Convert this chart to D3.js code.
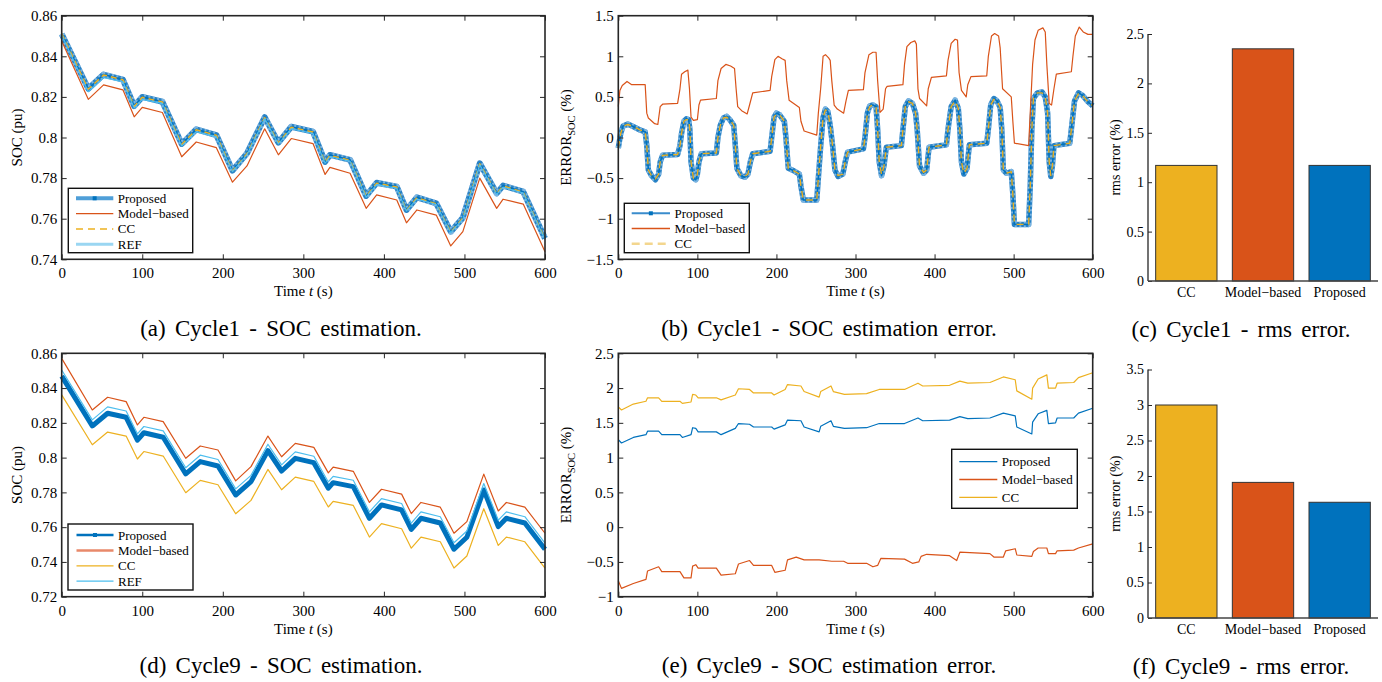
<!DOCTYPE html>
<html>
<head>
<meta charset="utf-8">
<script src="https://cdn.jsdelivr.net/npm/d3@7"></script>
<style>
  html, body { margin: 0; background: #fff; }
  svg { display: block; }
</style>
</head>
<body>
<svg id="fig" width="1382" height="682"></svg>
<script>
// ---- data -----------------------------------------------------------------
const TIME_TICKS = [0, 100, 200, 300, 400, 500, 600];
const SOC1_TICKS = [0.74, 0.76, 0.78, 0.8, 0.82, 0.84, 0.86];
const ERR1_TICKS = [-1.5, -1, -0.5, 0, 0.5, 1, 1.5];
const SOC9_TICKS = [0.72, 0.74, 0.76, 0.78, 0.8, 0.82, 0.84, 0.86];
const ERR9_TICKS = [-1, -0.5, 0, 0.5, 1, 1.5, 2, 2.5];
const RMS1_TICKS = [0, 0.5, 1, 1.5, 2, 2.5];
const RMS9_TICKS = [0, 0.5, 1, 1.5, 2, 2.5, 3, 3.5];

const METHODS = ['CC', 'Model\u2212based', 'Proposed'];
const RMS1 = [1.17, 2.35, 1.17];
const RMS9 = [3.0, 1.91, 1.63];

// cycle 1, SOC (pu)
const T1 = [0, 33, 52, 76, 90, 100, 125, 149, 167, 192, 212, 230, 252, 269, 285, 312,
            327, 333, 358, 378, 391, 416, 428, 441, 465, 483, 498, 519, 540, 548, 573, 600];
const PROP1 = [0.851, 0.824, 0.831, 0.8285, 0.8155, 0.820, 0.8176, 0.7968, 0.804, 0.8012, 0.7837,
               0.7922, 0.810, 0.7975, 0.8053, 0.8029, 0.788, 0.7914, 0.789, 0.7712, 0.7777, 0.7758,
               0.7643, 0.7705, 0.7676, 0.7536, 0.7605, 0.7873, 0.7725, 0.7763, 0.7733, 0.7503];
const MB1 = [0.8475, 0.8188, 0.8259, 0.8235, 0.8102, 0.8148, 0.8123, 0.7905, 0.7978, 0.795, 0.778,
             0.786, 0.8043, 0.7915, 0.7995, 0.797, 0.7818, 0.7853, 0.7824, 0.7651, 0.7717, 0.7692,
             0.758, 0.7643, 0.7618, 0.7466, 0.7536, 0.780, 0.7651, 0.7696, 0.7672, 0.7437];
const CC1 = [0.8512, 0.8238, 0.8308, 0.8284, 0.8153, 0.8198, 0.8175, 0.7966, 0.8038, 0.8011, 0.7835,
             0.792, 0.8098, 0.7973, 0.8051, 0.8027, 0.7878, 0.7912, 0.7888, 0.771, 0.7775, 0.7756,
             0.7641, 0.7703, 0.7674, 0.7534, 0.7603, 0.7871, 0.7723, 0.7761, 0.7731, 0.7501];
const REF1 = [0.8505, 0.8225, 0.8295, 0.8275, 0.8145, 0.8188, 0.8168, 0.7958, 0.8028, 0.8003, 0.7832,
              0.7915, 0.8093, 0.7968, 0.8043, 0.802, 0.7873, 0.7905, 0.7883, 0.7706, 0.7768, 0.775,
              0.7638, 0.7697, 0.767, 0.7531, 0.7598, 0.7866, 0.772, 0.7755, 0.7727, 0.7498];

// cycle 1, SOC error (%) as [t, value]
const PROP1_ERR = [[0,-0.13],[3,0.05],[6,0.14],[12,0.165],[20,0.13],[28,0.09],[34,0.07],[36,-0.1],[38,-0.4],
  [42,-0.47],[47,-0.52],[51,-0.45],[53,-0.3],[56,-0.22],[75,-0.21],[78,-0.1],[80,0.05],[83,0.2],[86,0.23],
  [89,0.22],[90.5,0.1],[92,-0.3],[95,-0.5],[98,-0.52],[100,-0.45],[102,-0.3],[105,-0.2],[124,-0.19],[126,0],
  [129,0.15],[133,0.24],[137,0.26],[141,0.22],[146,0.15],[148,-0.1],[150,-0.38],[155,-0.47],[160,-0.49],
  [164,-0.45],[167,-0.3],[170,-0.2],[192,-0.17],[194,0],[197,0.25],[200,0.3],[204,0.28],[210,0.2],[212,0],
  [215,-0.38],[222,-0.41],[229,-0.45],[231,-0.6],[234,-0.77],[251,-0.77],[253,-0.5],[256,-0.1],[259,0.25],
  [262,0.35],[265,0.32],[268,0.15],[271,-0.1],[274,-0.4],[278,-0.48],[284,-0.45],[287,-0.3],[290,-0.18],
  [310,-0.14],[312,0],[315,0.3],[318,0.39],[322,0.4],[326,0.38],[328,0.1],[330,-0.3],[333,-0.47],[336,-0.35],
  [339,-0.12],[358,-0.1],[360,0.1],[363,0.38],[367,0.45],[372,0.42],[376,0.3],[378,0.1],[381,-0.35],
  [386,-0.44],[390,-0.4],[393,-0.12],[415,-0.09],[417,0.1],[421,0.38],[426,0.46],[430,0.36],[432,0.1],
  [434,-0.3],[437,-0.45],[441,-0.38],[444,-0.09],[466,-0.07],[468,0.1],[471,0.4],[475,0.48],[479,0.45],
  [483,0.37],[485,0.1],[487,-0.4],[491,-0.44],[497,-0.42],[499,-0.7],[501,-1.07],[519,-1.07],[521,-0.6],
  [523,0.1],[525,0.48],[530,0.55],[536,0.56],[540,0.5],[543,0.3],[545,-0.3],[547,-0.48],[549,-0.35],
  [551,-0.1],[571,-0.07],[573,0.1],[577,0.45],[582,0.55],[587,0.52],[594,0.44],[600,0.39]];
const MB1_ERR = [[0,0.38],[2,0.58],[5,0.64],[11,0.69],[17,0.65],[34,0.65],[36,0.3],[38,0.24],[46,0.17],
  [50,0.16],[53,0.38],[56,0.41],[75,0.42],[78,0.6],[80,0.78],[84,0.81],[88,0.83],[90,0.6],[92,0.25],
  [95,0.21],[100,0.22],[102,0.4],[104,0.46],[124,0.48],[126,0.7],[130,0.85],[136,0.9],[142,0.88],
  [147,0.85],[149,0.6],[151,0.38],[156,0.33],[163,0.29],[166,0.4],[170,0.55],[192,0.58],[194,0.75],
  [198,0.96],[202,1.0],[207,0.97],[211,0.95],[213,0.7],[216,0.46],[229,0.37],[231,0.2],[235,0.08],
  [251,0.03],[253,0.3],[256,0.61],[259,1.0],[262,1.02],[266,0.98],[268,0.95],[270,0.7],[273,0.4],
  [277,0.35],[285,0.3],[288,0.45],[291,0.58],[310,0.59],[312,0.8],[317,1.02],[322,1.05],[326,1.05],
  [328,0.7],[331,0.31],[335,0.35],[338,0.6],[340,0.63],[360,0.65],[362,0.9],[365,1.12],[370,1.17],
  [375,1.19],[377,1.15],[379,0.6],[381,0.48],[390,0.39],[392,0.6],[396,0.74],[415,0.76],[417,0.95],
  [421,1.16],[426,1.21],[429,1.2],[431,0.8],[434,0.58],[440,0.5],[442,0.65],[446,0.75],[466,0.76],
  [468,1.0],[472,1.25],[476,1.28],[481,1.25],[483,1.1],[486,0.6],[497,0.5],[499,0.2],[501,-0.07],
  [519,-0.1],[521,0.3],[524,0.9],[527,1.2],[531,1.32],[537,1.35],[540,1.3],[542,0.9],[545,0.42],
  [548,0.4],[551,0.6],[554,0.78],[573,0.81],[575,1.0],[578,1.25],[583,1.36],[588,1.3],[594,1.27],[600,1.27]];
const CC1_ERR = [[0,-0.13],[3,0.05],[6,0.14],[12,0.16],[20,0.13],[28,0.09],[34,0.07],[36,-0.1],[38,-0.4],
  [42,-0.47],[47,-0.51],[51,-0.45],[53,-0.3],[56,-0.22],[75,-0.21],[78,-0.1],[80,0.05],[83,0.2],[86,0.22],
  [89,0.22],[90.5,0.1],[92,-0.3],[95,-0.5],[98,-0.51],[100,-0.45],[102,-0.3],[105,-0.2],[124,-0.19],[126,0],
  [129,0.15],[133,0.24],[137,0.25],[141,0.22],[146,0.15],[148,-0.1],[150,-0.38],[155,-0.47],[160,-0.48],
  [164,-0.45],[167,-0.3],[170,-0.2],[192,-0.17],[194,0],[197,0.25],[200,0.29],[204,0.28],[210,0.2],[212,0],
  [215,-0.38],[222,-0.41],[229,-0.45],[231,-0.6],[234,-0.77],[251,-0.77],[253,-0.5],[256,-0.1],[259,0.25],
  [262,0.34],[265,0.32],[268,0.15],[271,-0.1],[274,-0.4],[278,-0.47],[284,-0.45],[287,-0.3],[290,-0.18],
  [310,-0.14],[312,0],[315,0.3],[318,0.38],[322,0.4],[326,0.38],[328,0.1],[330,-0.3],[333,-0.46],[336,-0.35],
  [339,-0.12],[358,-0.1],[360,0.1],[363,0.38],[367,0.44],[372,0.42],[376,0.3],[378,0.1],[381,-0.35],
  [386,-0.43],[390,-0.4],[393,-0.12],[415,-0.09],[417,0.1],[421,0.38],[426,0.45],[430,0.36],[432,0.1],
  [434,-0.3],[437,-0.44],[441,-0.38],[444,-0.09],[466,-0.07],[468,0.1],[471,0.4],[475,0.47],[479,0.45],
  [483,0.37],[485,0.1],[487,-0.4],[491,-0.44],[497,-0.42],[499,-0.7],[501,-1.07],[519,-1.07],[521,-0.6],
  [523,0.1],[525,0.48],[530,0.55],[536,0.55],[540,0.5],[543,0.3],[545,-0.3],[547,-0.47],[549,-0.35],
  [551,-0.1],[571,-0.07],[573,0.1],[577,0.45],[582,0.54],[587,0.52],[594,0.44],[600,0.39]];

// cycle 9, SOC (pu)
const T9 = [0, 38, 57, 80, 94, 102, 126, 154, 172, 194, 216, 235, 256, 273, 290, 313,
            331, 337, 362, 382, 397, 422, 434, 446, 470, 487, 503, 524, 542, 552, 575, 600];
const PROP9 = [0.8469, 0.8182, 0.8255, 0.8232, 0.810, 0.8143, 0.8117, 0.7906, 0.7977, 0.7952, 0.7785,
               0.7862, 0.804, 0.7923, 0.7996, 0.7971, 0.7824, 0.7856, 0.7833, 0.7651, 0.7728, 0.7699,
               0.7587, 0.7651, 0.7624, 0.7473, 0.7542, 0.7814, 0.7603, 0.7651, 0.7624, 0.7473];
const MB9 = [0.8571, 0.8274, 0.8347, 0.8322, 0.8188, 0.8232, 0.8207, 0.7996, 0.8067, 0.8044, 0.7866,
             0.7948, 0.8124, 0.8005, 0.8082, 0.8059, 0.7912, 0.7945, 0.7921, 0.7742, 0.7818, 0.779,
             0.7678, 0.7742, 0.7715, 0.7565, 0.7632, 0.7905, 0.7693, 0.7742, 0.7715, 0.7565];
const CC9 = [0.8361, 0.8074, 0.8147, 0.8124, 0.7992, 0.8035, 0.8009, 0.7798, 0.7869, 0.7844, 0.7677,
             0.7754, 0.7932, 0.7815, 0.7888, 0.7863, 0.7716, 0.7748, 0.7725, 0.7543, 0.762, 0.7591,
             0.7479, 0.7543, 0.7516, 0.7365, 0.7434, 0.7706, 0.7495, 0.7543, 0.7516, 0.7365];
const REF9 = [0.8504, 0.8217, 0.8292, 0.8268, 0.8137, 0.8179, 0.8154, 0.7942, 0.8014, 0.7989, 0.782,
              0.7898, 0.8077, 0.7958, 0.8033, 0.8008, 0.786, 0.7892, 0.787, 0.7688, 0.7764, 0.7736,
              0.7623, 0.7688, 0.766, 0.751, 0.7578, 0.7851, 0.764, 0.7688, 0.766, 0.7508];

// cycle 9, SOC error (%) as [t, value]
const PROP9_ERR = [[0,1.26],[4,1.21],[19,1.29],[35,1.33],[37,1.38],[51,1.38],[55,1.33],[78,1.33],[81,1.29],
  [92,1.33],[94,1.43],[98,1.42],[101,1.37],[124,1.37],[130,1.33],[148,1.42],[152,1.49],[166,1.48],[171,1.44],
  [194,1.44],[197,1.41],[211,1.47],[214,1.54],[231,1.53],[235,1.44],[254,1.37],[256,1.45],[269,1.53],
  [272,1.45],[286,1.42],[314,1.43],[330,1.49],[362,1.49],[379,1.57],[385,1.53],[419,1.54],[432,1.59],
  [442,1.56],[470,1.57],[487,1.64],[502,1.6],[504,1.44],[523,1.34],[524,1.51],[531,1.63],[542,1.68],
  [544,1.49],[553,1.5],[555,1.57],[576,1.57],[582,1.64],[600,1.71]];
const MB9_ERR = [[0,-0.77],[4,-0.88],[19,-0.81],[35,-0.75],[37,-0.63],[51,-0.57],[55,-0.64],[78,-0.64],
  [83,-0.73],[92,-0.73],[94,-0.56],[98,-0.54],[101,-0.59],[124,-0.59],[130,-0.69],[148,-0.67],[152,-0.53],
  [166,-0.48],[171,-0.55],[194,-0.55],[198,-0.65],[211,-0.62],[214,-0.47],[225,-0.43],[235,-0.47],
  [254,-0.47],[270,-0.49],[285,-0.49],[290,-0.52],[314,-0.52],[322,-0.57],[328,-0.55],[332,-0.45],
  [362,-0.46],[372,-0.52],[380,-0.5],[383,-0.42],[390,-0.39],[419,-0.41],[428,-0.48],[432,-0.36],
  [470,-0.38],[475,-0.43],[487,-0.43],[490,-0.34],[502,-0.31],[504,-0.4],[523,-0.42],[525,-0.35],
  [531,-0.3],[542,-0.3],[544,-0.38],[553,-0.38],[555,-0.34],[576,-0.33],[582,-0.3],[600,-0.24]];
const CC9_ERR = [[0,1.73],[4,1.685],[19,1.77],[35,1.81],[37,1.86],[51,1.86],[55,1.81],[78,1.81],[81,1.78],
  [92,1.8],[94,1.91],[98,1.9],[101,1.86],[124,1.86],[130,1.83],[148,1.9],[152,1.99],[166,1.98],[171,1.93],
  [194,1.93],[197,1.9],[211,1.98],[214,2.05],[231,2.03],[235,1.95],[254,1.87],[256,1.95],[269,2.03],
  [272,1.95],[286,1.91],[314,1.92],[330,1.98],[362,1.98],[379,2.07],[385,2.03],[419,2.04],[432,2.1],
  [442,2.07],[470,2.08],[487,2.16],[502,2.12],[504,1.96],[523,1.84],[524,2.0],[531,2.13],[542,2.19],
  [544,2.0],[553,2.0],[555,2.07],[576,2.08],[582,2.15],[600,2.22]];

// ---- styling --------------------------------------------------------------
const COL = { blue: '#0072BD', orange: '#D95319', yellow: '#EDB120', cyan: '#4DBEEE' };
const BAR_COL = [COL.yellow, COL.orange, COL.blue];
const AX = '#262626';
const INK = '#000';
const FONT = "'Liberation Serif', 'DejaVu Serif', serif";

const svg = d3.select('#fig').attr('font-family', FONT);
svg.append('rect').attr('width', 1382).attr('height', 682).attr('fill', '#fff');

const fmt = d => String(+d.toFixed(2)).replace('-', '\u2212');
const zip = (ts, vs) => ts.map((t, i) => [t, vs[i]]);

function styleAxis(ax, fs) {
  ax.attr('font-family', FONT).attr('font-size', fs);
  ax.select('.domain').remove();
  ax.selectAll('.tick line').attr('stroke', AX).attr('stroke-width', 1);
  ax.selectAll('.tick text').attr('fill', INK);
}

// boxed time-series axes with inward ticks on every side
function timeFrame(box, yTicks) {
  const x = d3.scaleLinear().domain([0, 600]).range([box.l, box.r]);
  const y = d3.scaleLinear().domain(d3.extent(yTicks)).range([box.b, box.t]);
  const g = svg.append('g');
  const plot = g.append('g');

  g.append('g').attr('transform', `translate(0,${box.b})`)
    .call(d3.axisBottom(x).tickValues(TIME_TICKS).tickSize(-5).tickPadding(8.5).tickFormat(d => d))
    .call(ax => styleAxis(ax, 15));
  g.append('g').attr('transform', `translate(0,${box.t})`)
    .call(d3.axisTop(x).tickValues(TIME_TICKS).tickSize(-5).tickFormat(''))
    .call(ax => styleAxis(ax, 15));
  g.append('g').attr('transform', `translate(${box.l},0)`)
    .call(d3.axisLeft(y).tickValues(yTicks).tickSize(-5).tickPadding(4.5).tickFormat(fmt))
    .call(ax => styleAxis(ax, 15));
  g.append('g').attr('transform', `translate(${box.r},0)`)
    .call(d3.axisRight(y).tickValues(yTicks).tickSize(-5).tickFormat(''))
    .call(ax => styleAxis(ax, 15));

  g.append('rect')
    .attr('x', box.l).attr('y', box.t)
    .attr('width', box.r - box.l).attr('height', box.b - box.t)
    .attr('fill', 'none').attr('stroke', AX).attr('stroke-width', 1.6);

  // x label: Time t (s)
  const xl = g.append('text')
    .attr('x', (box.l + box.r) / 2).attr('y', box.b + 37)
    .attr('text-anchor', 'middle').attr('font-size', 15).attr('fill', INK);
  xl.append('tspan').text('Time ');
  xl.append('tspan').attr('font-style', 'italic').text('t');
  xl.append('tspan').text(' (s)');

  return { g, plot, x, y };
}

function yLabel(g, xPos, yMid, parts) {
  const t = g.append('text')
    .attr('transform', `translate(${xPos},${yMid}) rotate(-90)`)
    .attr('text-anchor', 'middle').attr('font-size', 15).attr('fill', INK);
  parts(t);
}

function drawLine(plot, x, y, data, s) {
  const line = d3.line().x(d => x(d[0])).y(d => y(d[1]));
  return plot.append('path').datum(data)
    .attr('d', line)
    .attr('fill', 'none')
    .attr('stroke', s.color)
    .attr('stroke-width', s.width)
    .attr('stroke-dasharray', s.dash || null)
    .attr('stroke-opacity', s.opacity ?? 1)
    .attr('stroke-linejoin', 'round');
}

// thick marker-studded band used for the proposed estimate
function drawMarkedBand(plot, x, y, data, w) {
  drawLine(plot, x, y, data, { color: '#2a83c6', width: w });
  drawLine(plot, x, y, data, { color: '#9cc9ec', width: w, dash: '2,2.5', opacity: 0.7 });
  drawLine(plot, x, y, data, { color: COL.blue, width: 1.6 });
}

function legend(g, bx, rows, sample) {
  g.append('rect')
    .attr('x', bx.x).attr('y', bx.y).attr('width', bx.w).attr('height', bx.h)
    .attr('fill', '#fff').attr('stroke', '#111').attr('stroke-width', 1.4);
  rows.forEach((r, i) => {
    const cy = bx.y + bx.first + i * bx.step;
    g.append('line')
      .attr('x1', bx.x + sample[0]).attr('x2', bx.x + sample[1])
      .attr('y1', cy).attr('y2', cy)
      .attr('stroke', r.color).attr('stroke-width', r.width)
      .attr('stroke-opacity', r.opacity ?? 1)
      .attr('stroke-dasharray', r.dash || null);
    if (r.marker) {
      const mx = bx.x + (sample[0] + sample[1]) / 2;
      g.append('rect').attr('x', mx - 2).attr('y', cy - 2).attr('width', 4).attr('height', 4)
        .attr('fill', r.marker);
    }
    g.append('text')
      .attr('x', bx.x + sample[1] + 4.5).attr('y', cy + 4.5)
      .attr('font-size', 13).attr('fill', INK)
      .text(r.label);
  });
}

function caption(x, y, txt) {
  svg.append('text')
    .attr('x', x).attr('y', y)
    .attr('text-anchor', 'middle')
    .attr('font-size', 23).attr('word-spacing', 3.5).attr('fill', INK)
    .text(txt);
}

function errLabel(t) {
  t.append('tspan').text('ERROR');
  t.append('tspan').attr('font-size', 10.5).attr('dy', 4).text('SOC');
  t.append('tspan').attr('dy', -4).text(' (%)');
}

function socLabel(t) { t.text('SOC (pu)'); }

// ---- (a) cycle 1 SOC --------------------------------------------------------
{
  const box = { l: 61.7, r: 545, t: 15.7, b: 259.3 };
  const { g, plot, x, y } = timeFrame(box, SOC1_TICKS);
  drawMarkedBand(plot, x, y, zip(T1, PROP1), 6);
  drawLine(plot, x, y, zip(T1, MB1), { color: COL.orange, width: 1.2 });
  drawLine(plot, x, y, zip(T1, CC1), { color: COL.yellow, width: 1.5, dash: '6,4' });
  drawLine(plot, x, y, zip(T1, REF1), { color: COL.cyan, width: 1.1 });
  yLabel(g, 22, (box.t + box.b) / 2, socLabel);
  legend(g, { x: 68.3, y: 188.3, w: 124.4, h: 64.4, first: 10, step: 15.3 }, [
    { label: 'Proposed', color: '#4f9fd8', width: 4, marker: COL.blue },
    { label: 'Model\u2212based', color: COL.orange, width: 1.4 },
    { label: 'CC', color: COL.yellow, width: 1.5, dash: '7,5' },
    { label: 'REF', color: '#9ad6f2', width: 3 },
  ], [7.7, 45]);
  caption(281, 335.7, '(a) Cycle1 - SOC estimation.');
}

// ---- (b) cycle 1 SOC error -------------------------------------------------
{
  const box = { l: 618.3, r: 1092.7, t: 15.7, b: 259.3 };
  const { g, plot, x, y } = timeFrame(box, ERR1_TICKS);
  drawMarkedBand(plot, x, y, PROP1_ERR, 5.5);
  drawLine(plot, x, y, MB1_ERR, { color: COL.orange, width: 1.2 });
  drawLine(plot, x, y, CC1_ERR, { color: COL.yellow, width: 1.4, dash: '7,5' });
  yLabel(g, 571, (box.t + box.b) / 2, errLabel);
  legend(g, { x: 624.3, y: 203.3, w: 125, h: 49.4, first: 10, step: 15.2 }, [
    { label: 'Proposed', color: '#3a8ccc', width: 2, marker: COL.blue },
    { label: 'Model\u2212based', color: COL.orange, width: 1.4 },
    { label: 'CC', color: '#f3d68e', width: 2.5, dash: '8,5' },
  ], [7.4, 45.7]);
  caption(829, 335.7, '(b) Cycle1 - SOC estimation error.');
}

// ---- (d) cycle 9 SOC --------------------------------------------------------
{
  const box = { l: 61.7, r: 545, t: 353.3, b: 596.7 };
  const { g, plot, x, y } = timeFrame(box, SOC9_TICKS);
  drawLine(plot, x, y, zip(T9, PROP9), { color: COL.blue, width: 5 });
  drawLine(plot, x, y, zip(T9, MB9), { color: COL.orange, width: 1.2 });
  drawLine(plot, x, y, zip(T9, CC9), { color: COL.yellow, width: 1.2 });
  drawLine(plot, x, y, zip(T9, REF9), { color: COL.cyan, width: 1.2 });
  yLabel(g, 22, (box.t + box.b) / 2, socLabel);
  legend(g, { x: 68, y: 524, w: 125, h: 66, first: 11, step: 15.4 }, [
    { label: 'Proposed', color: COL.blue, width: 2.5, marker: COL.blue },
    { label: 'Model\u2212based', color: '#e8896a', width: 2.5 },
    { label: 'CC', color: COL.yellow, width: 1.3 },
    { label: 'REF', color: COL.cyan, width: 1.3 },
  ], [8.5, 45.5]);
  caption(281, 673.3, '(d) Cycle9 - SOC estimation.');
}

// ---- (e) cycle 9 SOC error -------------------------------------------------
{
  const box = { l: 618.3, r: 1092.7, t: 353.3, b: 596.7 };
  const { g, plot, x, y } = timeFrame(box, ERR9_TICKS);
  drawLine(plot, x, y, PROP9_ERR, { color: COL.blue, width: 1.2 });
  drawLine(plot, x, y, MB9_ERR, { color: COL.orange, width: 1.2 });
  drawLine(plot, x, y, CC9_ERR, { color: COL.yellow, width: 1.2 });
  yLabel(g, 571, (box.t + box.b) / 2, errLabel);
  legend(g, { x: 951.7, y: 449.3, w: 125.6, h: 59, first: 12.4, step: 17.8 }, [
    { label: 'Proposed', color: COL.blue, width: 1.3 },
    { label: 'Model\u2212based', color: COL.orange, width: 1.3 },
    { label: 'CC', color: COL.yellow, width: 1.3 },
  ], [7.6, 45.6]);
  caption(829, 673.3, '(e) Cycle9 - SOC estimation error.');
}

// ---- (c), (f) rms error bars ----------------------------------------------
function rmsBars(box, vals, ticks) {
  const x = d3.scaleBand().domain(METHODS).range([box.l, box.r]).paddingInner(0.2).paddingOuter(0.1);
  const y = d3.scaleLinear().domain(d3.extent(ticks)).range([box.b, box.t]);
  const g = svg.append('g');

  g.selectAll('rect.bar')
    .data(vals)
    .join('rect')
    .attr('class', 'bar')
    .attr('x', (d, i) => x(METHODS[i]))
    .attr('y', d => y(d))
    .attr('width', x.bandwidth())
    .attr('height', d => y(0) - y(d))
    .attr('fill', (d, i) => BAR_COL[i])
    .attr('stroke', '#333').attr('stroke-width', 1);

  g.append('g').attr('transform', `translate(${box.l},0)`)
    .call(d3.axisLeft(y).tickValues(ticks).tickSize(-4).tickPadding(4).tickFormat(fmt))
    .call(ax => styleAxis(ax, 14));
  g.append('g').attr('transform', `translate(0,${box.b})`)
    .call(d3.axisBottom(x).tickSize(0).tickPadding(6.5))
    .call(ax => styleAxis(ax, 14));

  g.append('line').attr('x1', box.l).attr('x2', box.l).attr('y1', box.t).attr('y2', box.b)
    .attr('stroke', AX).attr('stroke-width', 1.3);
  g.append('line').attr('x1', box.l).attr('x2', box.r).attr('y1', box.b).attr('y2', box.b)
    .attr('stroke', '#444').attr('stroke-width', 1.6);

  g.append('text')
    .attr('transform', `translate(1120,${(box.t + box.b) / 2}) rotate(-90)`)
    .attr('text-anchor', 'middle').attr('font-size', 14).attr('fill', INK)
    .text('rms error (%)');
}

rmsBars({ l: 1148, r: 1378, t: 34, b: 281 }, RMS1, RMS1_TICKS);
caption(1241, 336.7, '(c) Cycle1 - rms error.');
rmsBars({ l: 1148, r: 1378, t: 369.5, b: 618 }, RMS9, RMS9_TICKS);
caption(1241, 674, '(f) Cycle9 - rms error.');
</script>
</body>
</html>
